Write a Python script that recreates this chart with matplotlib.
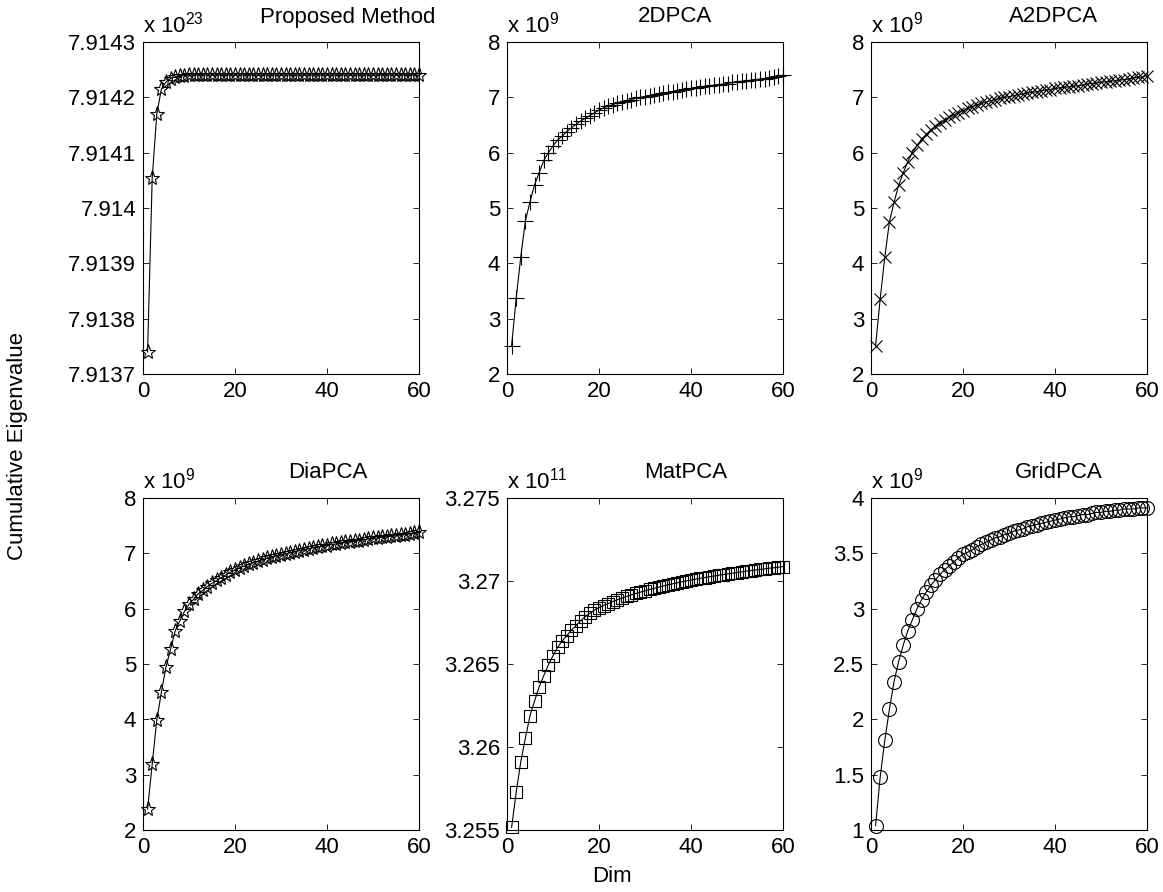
import matplotlib
matplotlib.use("Agg")
import matplotlib.pyplot as plt
import numpy as np

plt.rcParams['font.family'] = ['Liberation Sans', 'DejaVu Sans']
plt.rcParams['mathtext.fontset'] = 'custom'
plt.rcParams['mathtext.rm'] = 'Liberation Sans'
plt.rcParams['mathtext.it'] = 'Liberation Sans'

dims = list(range(1, 61))

proposed = [7.91374, 7.914054, 7.914170, 7.914215, 7.914228, 7.914234, 7.914237, 7.914238, 7.914239, 7.91424,
            7.91424, 7.91424, 7.91424, 7.91424, 7.91424, 7.91424, 7.91424, 7.91424, 7.91424, 7.91424,
            7.91424, 7.91424, 7.91424, 7.91424, 7.91424, 7.91424, 7.91424, 7.91424, 7.91424, 7.91424,
            7.91424, 7.91424, 7.91424, 7.91424, 7.91424, 7.91424, 7.91424, 7.91424, 7.91424, 7.91424,
            7.91424, 7.91424, 7.91424, 7.91424, 7.91424, 7.91424, 7.91424, 7.91424, 7.91424, 7.91424,
            7.91424, 7.91424, 7.91424, 7.91424, 7.91424, 7.91424, 7.91424, 7.91424, 7.91424, 7.91424]

pca2d = [2.51, 3.37, 4.12, 4.77, 5.11, 5.42, 5.64, 5.86, 6.00, 6.12,
         6.23, 6.30, 6.38, 6.45, 6.51, 6.57, 6.62, 6.67, 6.72, 6.77,
         6.81, 6.84, 6.87, 6.90, 6.92, 6.94, 6.96, 6.98, 7.00, 7.01,
         7.03, 7.04, 7.06, 7.07, 7.09, 7.10, 7.12, 7.13, 7.15, 7.16,
         7.17, 7.18, 7.20, 7.21, 7.22, 7.23, 7.24, 7.25, 7.27, 7.28,
         7.29, 7.30, 7.31, 7.32, 7.33, 7.34, 7.35, 7.37, 7.38, 7.40]

a2dpca = [2.51, 3.36, 4.11, 4.75, 5.10, 5.41, 5.63, 5.84, 6.00, 6.13,
          6.24, 6.33, 6.41, 6.48, 6.54, 6.59, 6.64, 6.68, 6.72, 6.76,
          6.80, 6.83, 6.86, 6.89, 6.91, 6.94, 6.96, 6.98, 7.00, 7.01,
          7.03, 7.05, 7.06, 7.08, 7.09, 7.10, 7.12, 7.13, 7.14, 7.16,
          7.17, 7.18, 7.19, 7.20, 7.21, 7.22, 7.24, 7.25, 7.26, 7.27,
          7.28, 7.29, 7.30, 7.31, 7.32, 7.33, 7.35, 7.36, 7.37, 7.39]

diapca = [2.38, 3.19, 3.99, 4.49, 4.95, 5.27, 5.60, 5.78, 5.95, 6.08,
          6.17, 6.27, 6.33, 6.40, 6.46, 6.51, 6.56, 6.61, 6.66, 6.70,
          6.74, 6.77, 6.80, 6.83, 6.86, 6.88, 6.91, 6.93, 6.95, 6.97,
          6.99, 7.01, 7.03, 7.05, 7.06, 7.08, 7.10, 7.11, 7.13, 7.14,
          7.16, 7.17, 7.18, 7.20, 7.21, 7.22, 7.23, 7.24, 7.26, 7.27,
          7.28, 7.29, 7.30, 7.31, 7.32, 7.33, 7.34, 7.35, 7.36, 7.38]

matpca = [3.25516, 3.25727, 3.25912, 3.26054, 3.26189, 3.26279, 3.26363, 3.26430, 3.26496, 3.26550,
          3.26600, 3.26640, 3.26670, 3.26705, 3.26731, 3.26761, 3.26785, 3.26805, 3.26825, 3.26840,
          3.26852, 3.26864, 3.26876, 3.26887, 3.26897, 3.26907, 3.26916, 3.26925, 3.26933, 3.26941,
          3.26949, 3.26956, 3.26963, 3.26970, 3.26977, 3.26983, 3.26989, 3.26995, 3.27001, 3.27006,
          3.27011, 3.27016, 3.27021, 3.27026, 3.27030, 3.27035, 3.27039, 3.27043, 3.27047, 3.27051,
          3.27055, 3.27059, 3.27063, 3.27066, 3.27070, 3.27073, 3.27077, 3.27080, 3.27083, 3.27087]

gridpca = [1.04, 1.48, 1.81, 2.09, 2.34, 2.52, 2.67, 2.80, 2.90, 3.00,
           3.08, 3.15, 3.21, 3.26, 3.31, 3.35, 3.39, 3.42, 3.46, 3.49,
           3.51, 3.53, 3.56, 3.58, 3.60, 3.62, 3.64, 3.65, 3.67, 3.68,
           3.70, 3.71, 3.72, 3.74, 3.75, 3.76, 3.77, 3.78, 3.79, 3.80,
           3.81, 3.82, 3.83, 3.83, 3.84, 3.85, 3.85, 3.86, 3.87, 3.87,
           3.88, 3.88, 3.89, 3.89, 3.90, 3.90, 3.90, 3.91, 3.91, 3.91]

titles = ["Proposed Method", "2DPCA", "A2DPCA", "DiaPCA", "MatPCA", "GridPCA"]
exponents = ["23", "9", "9", "9", "11", "9"]
xticks = [0, 20, 40, 60]

yticks_list = [
    [7.9137, 7.9138, 7.9139, 7.914, 7.9141, 7.9142, 7.9143],
    [2, 3, 4, 5, 6, 7, 8],
    [2, 3, 4, 5, 6, 7, 8],
    [2, 3, 4, 5, 6, 7, 8],
    [3.255, 3.26, 3.265, 3.27, 3.275],
    [1, 1.5, 2, 2.5, 3, 3.5, 4],
]
ytick_labels = [
    ["7.9137", "7.9138", "7.9139", "7.914", "7.9141", "7.9142", "7.9143"],
    ["2", "3", "4", "5", "6", "7", "8"],
    ["2", "3", "4", "5", "6", "7", "8"],
    ["2", "3", "4", "5", "6", "7", "8"],
    ["3.255", "3.26", "3.265", "3.27", "3.275"],
    ["1", "1.5", "2", "2.5", "3", "3.5", "4"],
]
series = [proposed, pca2d, a2dpca, diapca, matpca, gridpca]
markers = ['*', '+', 'x', '*', 's', 'o']
msizes = [11, 11, 8, 11, 8, 10]

W, H = 1163, 892
fig = plt.figure(figsize=(W / 100, H / 100), dpi=100)

col_left = [143, 507, 871]
row_top = [42, 498]
ax_w, ax_h = 276, 332
title_pos = [(348, 17), (675, 17), (1054, 17), (328, 473), (686, 473), (1059, 473)]

FS = 16
for i in range(6):
    r, c = divmod(i, 3)
    left = col_left[c] / W
    bottom = 1 - (row_top[r] + ax_h) / H
    ax = fig.add_axes([left, bottom, ax_w / W, ax_h / H])
    yt = yticks_list[i]
    ax.plot(dims, series[i], color='black', lw=0.8, marker=markers[i], ms=msizes[i],
            mfc='none', mec='black', mew=0.8, clip_on=False, zorder=3)
    ax.set_xlim(0, 60)
    ax.set_ylim(yt[0], yt[-1])
    ax.set_xticks(xticks)
    ax.set_xticklabels([str(v) for v in xticks])
    ax.set_yticks(yt)
    ax.set_yticklabels(ytick_labels[i])
    ax.tick_params(direction='in', top=True, right=True, length=4, width=0.6,
                   labelsize=FS, pad=5)
    for s in ax.spines.values():
        s.set_linewidth(0.8)
    fig.text(col_left[c] / W, 1 - (row_top[r] - 9) / H, r'x 10$^{%s}$' % exponents[i],
             fontsize=FS, ha='left', va='baseline')
    tx, ty = title_pos[i]
    fig.text(tx / W, 1 - ty / H, titles[i], fontsize=FS, ha='center', va='center')

fig.text(18 / W, 1 - 446 / H, "Cumulative Eigenvalue", rotation=90, fontsize=FS,
         ha='center', va='center')
fig.text(612 / W, 1 - 877 / H, "Dim", fontsize=FS, ha='center', va='center')

fig.savefig("out.png", dpi=100, facecolor='white')
